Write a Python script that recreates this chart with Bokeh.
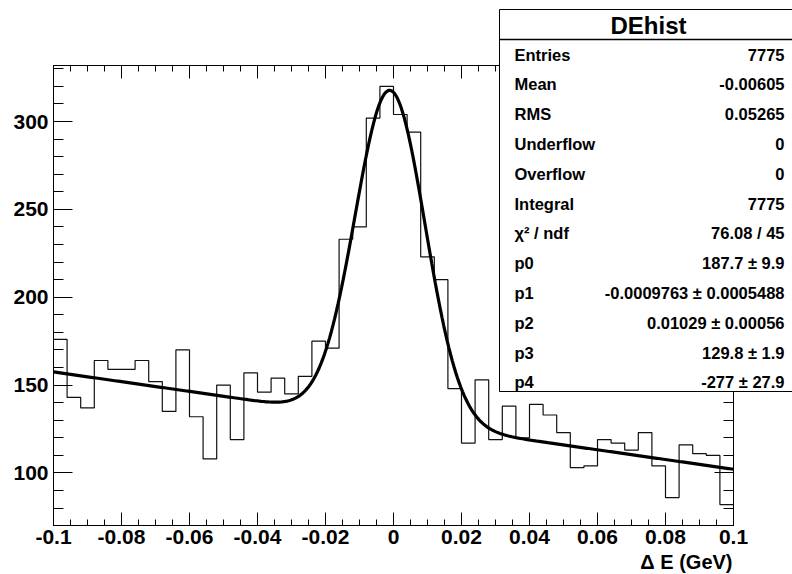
import numpy as np
from bokeh.plotting import figure
from bokeh.layouts import column
from bokeh.models import (Range1d, FixedTicker, LinearAxis, CustomJSTickFormatter)
from bokeh.core.properties import value
from bokeh.embed import file_html
from bokeh.resources import INLINE

# ---- data ----
counts = [176, 143, 137, 164, 159, 159, 164, 152, 135, 170, 132, 108, 150, 119,
          157, 146, 154, 145, 155, 175, 171, 233, 240, 302, 320, 304, 294, 223,
          210, 148, 117, 153, 119,
          138, 120, 139, 133, 123, 103, 104, 119, 117, 113, 123, 104, 86, 116,
          111, 110, 82]
x_lo, x_hi = -0.1, 0.1
y_lo, y_hi = 70.1, 331.9
# fit: gaus(p0,p1,p2) + pol1(p3,p4)
fit_params = [187.7, -0.0009763, 0.01029, 129.8, -277.0]

x_ticks = [-0.1, -0.08, -0.06, -0.04, -0.02, 0.0, 0.02, 0.04, 0.06, 0.08, 0.1]
x_tick_labels = ["-0.1", "-0.08", "-0.06", "-0.04", "-0.02", "0", "0.02",
                 "0.04", "0.06", "0.08", "0.1"]
y_ticks = [100, 150, 200, 250, 300]
y_tick_labels = ["100", "150", "200", "250", "300"]

stats_title = "DEhist"
stats_names = ["Entries", "Mean", "RMS", "Underflow", "Overflow", "Integral",
               "χ² / ndf", "p0", "p1", "p2", "p3", "p4"]
stats_values = ["7775", "-0.00605", "0.05265", "0", "0", "7775", "76.08 / 45",
                "187.7 ± 9.9", "-0.0009763 ± 0.0005488", "0.01029 ± 0.00056",
                "129.8 ± 1.9", "-277 ± 27.9"]
x_title = "Δ E (GeV)"

FONT = "Liberation Sans"
W, H = 792, 574

# ---------------- main histogram figure ----------------
p = figure(width=W, height=H, output_backend="svg", toolbar_location=None,
           x_range=Range1d(x_lo, x_hi), y_range=Range1d(y_lo, y_hi),
           min_border_left=53, min_border_right=59, min_border_top=65,
           min_border_bottom=49, x_axis_location=None, y_axis_location=None)
p.frame_align = False
p.background_fill_color = "white"
p.border_fill_color = "white"
p.outline_line_color = "black"
p.outline_line_width = 1
p.xgrid.visible = False
p.ygrid.visible = False

# histogram outline
edges = np.linspace(x_lo, x_hi, len(counts) + 1)
p.step(x=edges, y=list(counts) + [counts[-1]], mode="after",
       line_color="#111111", line_width=1.2)

# fit curve
p0, p1, p2, p3, p4 = fit_params
xf = np.linspace(x_lo, x_hi, 400)
yf = p0 * np.exp(-0.5 * ((xf - p1) / p2) ** 2) + p3 + p4 * xf
p.line(xf, yf, line_color="black", line_width=3.2)

# minor tick positions
x_minor = list(np.round(np.arange(x_lo, x_hi + 1e-9, 0.005), 4))
y_minor = list(range(80, 331, 10))

blank = CustomJSTickFormatter(code="return ''")

def style_axis(ax, major_len, minor_len, labels):
    ax.axis_line_color = "black"
    ax.major_tick_line_color = "black"
    ax.minor_tick_line_color = "black"
    ax.major_tick_in = major_len
    ax.major_tick_out = 0
    ax.minor_tick_in = minor_len
    ax.minor_tick_out = 0
    if labels:
        ax.major_label_text_font = FONT
        ax.major_label_text_font_style = "bold"
        ax.major_label_text_font_size = "21px"
        ax.major_label_text_color = "black"
    else:
        ax.formatter = blank

xb = LinearAxis(ticker=FixedTicker(ticks=x_ticks, minor_ticks=x_minor))
xb.major_label_overrides = dict(zip(x_ticks, x_tick_labels))
style_axis(xb, 13, 6, True)
xb.major_label_standoff = 4
p.add_layout(xb, "below")

xt = LinearAxis(ticker=FixedTicker(ticks=x_ticks, minor_ticks=x_minor))
style_axis(xt, 13, 6, False)
p.add_layout(xt, "above")

yl = LinearAxis(ticker=FixedTicker(ticks=y_ticks, minor_ticks=y_minor))
yl.major_label_overrides = dict(zip(y_ticks, y_tick_labels))
style_axis(yl, 19, 10, True)
yl.major_label_standoff = 5
p.add_layout(yl, "left")

yr = LinearAxis(ticker=FixedTicker(ticks=y_ticks, minor_ticks=y_minor))
style_axis(yr, 19, 10, False)
p.add_layout(yr, "right")

# ---------------- transparent overlay (stats box, axis title) ----------------
ov = figure(width=W, height=H, output_backend="svg", toolbar_location=None,
            x_range=Range1d(0, W), y_range=Range1d(H, 0),
            min_border=0, min_border_left=0, min_border_right=0,
            min_border_top=0, min_border_bottom=0,
            x_axis_location=None, y_axis_location=None,
            margin=(-H, 0, 0, 0))
ov.frame_align = False
ov.background_fill_alpha = 0
ov.border_fill_alpha = 0
ov.outline_line_color = None
ov.xgrid.visible = False
ov.ygrid.visible = False

# x axis title, right-aligned to the frame's right edge
ov.text(x=[732], y=[561.5], text=[x_title], text_align="right",
        text_baseline="middle", text_font=value(FONT), text_font_style="bold",
        text_font_size="20px", text_color="black")

# stats box
box_l, box_r, box_t, box_b, sep_y = 499, 800, 9, 391, 39
ov.quad(left=[box_l], right=[box_r], top=[box_t], bottom=[box_b],
        fill_color="white", line_color="black", line_width=1)
ov.segment(x0=[box_l], y0=[sep_y], x1=[box_r], y1=[sep_y],
           line_color="black", line_width=1.5)
ov.text(x=[648], y=[25], text=[stats_title], text_align="center",
        text_baseline="middle", text_font=value(FONT), text_font_style="bold",
        text_font_size="24px", text_color="black")
row_y = [54 + 29.8 * i for i in range(len(stats_names))]
ov.text(x=[514] * len(stats_names), y=row_y, text=stats_names,
        text_align="left", text_baseline="middle", text_font=value(FONT),
        text_font_style="bold", text_font_size="16.5px", text_color="black")
ov.text(x=[784] * len(stats_values), y=row_y, text=stats_values,
        text_align="right", text_baseline="middle", text_font=value(FONT),
        text_font_style="bold", text_font_size="16.5px", text_color="black")

layout = column(p, ov, spacing=0)
open("out.html", "w").write(file_html(layout, INLINE))
